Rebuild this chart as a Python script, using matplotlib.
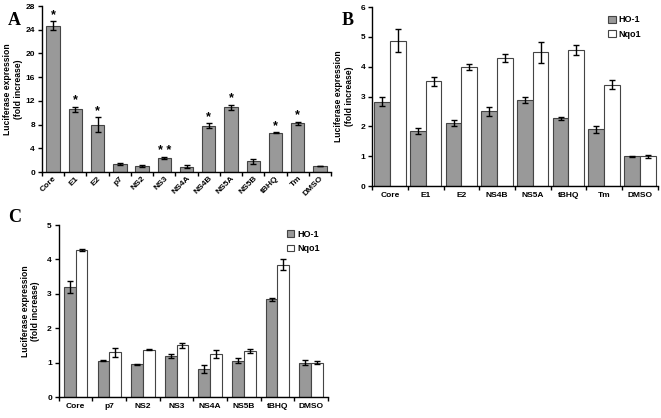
import matplotlib.pyplot as plt
import numpy as np
from matplotlib import rcParams

rcParams.update({
    "font.family": "sans-serif",
    "font.sans-serif": ["Liberation Sans"],
    "font.weight": "bold",
    "axes.labelweight": "bold",
    "axes.linewidth": 1.0,
    "xtick.labelsize": 6,
    "ytick.labelsize": 6,
})

GRAY = "#999999"
EDGE = "#444444"

# Panel A data
a_cats = ["Core", "E1", "E2", "p7", "NS2", "NS3", "NS4A", "NS4B", "NS5A", "NS5B", "tBHQ", "Tm", "DMSO"]
a_vals = [24.7, 10.6, 8.0, 1.3, 1.0, 2.3, 0.9, 7.8, 10.9, 1.8, 6.6, 8.2, 1.0]
a_err = [0.7, 0.4, 1.2, 0.15, 0.1, 0.15, 0.3, 0.4, 0.4, 0.4, 0.1, 0.3, 0.05]
a_marks = ["*", "*", "*", "", "", "* *", "", "*", "*", "", "*", "*", ""]

# Panel B data
b_cats = ["Core", "E1", "E2", "NS4B", "NS5A", "tBHQ", "Tm", "DMSO"]
b_ho1 = [2.83, 1.83, 2.12, 2.5, 2.87, 2.27, 1.9, 1.0]
b_ho1_err = [0.15, 0.1, 0.1, 0.15, 0.1, 0.06, 0.12, 0.02]
b_nqo1 = [4.88, 3.52, 3.98, 4.3, 4.48, 4.55, 3.4, 1.0]
b_nqo1_err = [0.37, 0.15, 0.1, 0.13, 0.35, 0.17, 0.15, 0.05]

# Panel C data
c_cats = ["Core", "p7", "NS2", "NS3", "NS4A", "NS5B", "tBHQ", "DMSO"]
c_ho1 = [3.19, 1.06, 0.95, 1.19, 0.81, 1.06, 2.84, 1.0]
c_ho1_err = [0.17, 0.02, 0.02, 0.05, 0.11, 0.07, 0.05, 0.07]
c_nqo1 = [4.28, 1.3, 1.38, 1.5, 1.26, 1.33, 3.85, 1.0]
c_nqo1_err = [0.03, 0.14, 0.02, 0.07, 0.11, 0.06, 0.15, 0.05]

YLABEL = "Luciferase expression\n(fold increase)"
ERR_KW = dict(ecolor="black", capsize=2.2, elinewidth=1.0, capthick=1.0)

fig = plt.figure(figsize=(6.61, 4.18), dpi=100)


def style_axes(ax, n, ymax, step, lpad=5):
    ax.spines["top"].set_visible(False)
    ax.spines["right"].set_visible(False)
    ax.set_xlim(-0.5, n - 0.5)
    ax.set_ylim(0, ymax)
    ax.set_yticks(np.arange(0, ymax + 0.01, step))
    ax.set_xticks(np.arange(n))
    ax.set_xticks(np.arange(-0.5, n, 1.0), minor=True)
    ax.tick_params(axis="x", which="major", length=0, pad=4)
    ax.tick_params(axis="x", which="minor", length=3, direction="out", width=1.0)
    ax.tick_params(axis="y", length=3, direction="out", width=1.0, pad=2)
    ax.set_ylabel(YLABEL, fontsize=6.2, labelpad=lpad)


def grouped(ax, cats, v1, e1, v2, e2, w, leg_loc):
    x = np.arange(len(cats))
    ax.bar(x - w / 2, v1, w, yerr=e1, color=GRAY, edgecolor=EDGE, linewidth=0.8,
           error_kw=ERR_KW, label="HO-1")
    ax.bar(x + w / 2, v2, w, yerr=e2, color="white", edgecolor=EDGE, linewidth=0.8,
           error_kw=ERR_KW, label="Nqo1")
    ax.set_xticklabels(cats)
    ax.legend(loc="upper right", bbox_to_anchor=leg_loc, frameon=False, fontsize=6.5,
              handlelength=0.8, handleheight=0.8, handletextpad=0.3, labelspacing=0.6)


# Panel A
axA = fig.add_axes([0.0635, 0.5885, 0.4375, 0.397])
xa = np.arange(len(a_cats))
axA.bar(xa, a_vals, 0.6, yerr=a_err, color=GRAY, edgecolor=EDGE, linewidth=0.8, error_kw=ERR_KW)
style_axes(axA, len(a_cats), 28, 4, lpad=2)
axA.set_xticklabels(a_cats, rotation=45, ha="right", rotation_mode="anchor")
axA.tick_params(axis="x", which="major", pad=2)
for xi, v, e, m in zip(xa, a_vals, a_err, a_marks):
    if m:
        axA.text(xi, v + e + 0.1, m, ha="center", va="bottom", fontsize=9)
fig.text(0.012, 0.94, "A", fontsize=13, fontweight="bold", family="Liberation Serif")

# Panel B
axB = fig.add_axes([0.563, 0.555, 0.432, 0.428])
style_axes(axB, len(b_cats), 6, 1)
grouped(axB, b_cats, b_ho1, b_ho1_err, b_nqo1, b_nqo1_err, 0.44, (0.97, 1.0))
fig.text(0.517, 0.94, "B", fontsize=13, fontweight="bold", family="Liberation Serif")

# Panel C
axC = fig.add_axes([0.089, 0.050, 0.407, 0.4117])
style_axes(axC, len(c_cats), 5, 1)
grouped(axC, c_cats, c_ho1, c_ho1_err, c_nqo1, c_nqo1_err, 0.35, (1.0, 1.02))
fig.text(0.012, 0.468, "C", fontsize=13, fontweight="bold", family="Liberation Serif")

fig.savefig("out.png", dpi=100)
